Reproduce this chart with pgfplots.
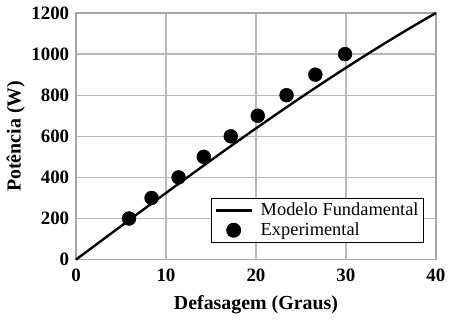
\documentclass[border=0pt]{standalone}
\usepackage{fontspec}
\setmainfont{Liberation Serif}
\usepackage{pgfplots}
\pgfplotsset{compat=1.18}
\begin{document}
\fontsize{20}{23}\selectfont
\begin{tikzpicture}
\begin{axis}[
  scale only axis,
  width=362pt, height=248pt,
  xmin=0, xmax=40, ymin=0, ymax=1200,
  xtick={0,10,20,30,40},
  ytick={0,200,400,600,800,1000,1200},
  grid=major,
  grid style={gray!55, line width=1.2pt},
  axis line style={gray!70, line width=1.2pt},
  major tick length=0pt,
  /pgf/number format/assume math mode=true,
  /pgf/number format/1000 sep={},
  tick label style={font=\fontsize{19}{22}\selectfont\bfseries},
  xticklabel style={yshift=-3pt},
  yticklabel style={xshift=0pt},
  xlabel={\textbf{Defasagem (Graus)}},
  ylabel={\textbf{Potência (W)}},
  label style={font=\fontsize{20}{23}\selectfont},
  xlabel style={yshift=0pt},
  ylabel style={yshift=-7pt},
  legend style={at={(rel axis cs:0.967,0.069)}, anchor=south east,
    draw=black, line width=1pt, font=\fontsize{18.5}{21}\selectfont,
    row sep=0pt, inner xsep=3pt, inner ysep=2pt,
    /tikz/column 1/.style={column sep=6pt}},
  legend image code/.code={
    \draw[#1, line width=2.4pt] (0pt,0pt) -- (36pt,0pt);
  },
  legend cell align=left,
  clip=false,
]
% P = Pmax sin(delta), tabulated every 2.5 degrees
\addplot[black, line width=2.4pt, smooth] coordinates {
  (0,0) (2.5,81.4) (5,162.7) (7.5,243.7) (10,324.2) (12.5,404.1)
  (15,483.2) (17.5,561.4) (20,638.5) (22.5,714.4) (25,789.0)
  (27.5,862.0) (30,933.5) (32.5,1003.1) (35,1070.8) (37.5,1136.5) (40,1200)
};
\addlegendentry{Modelo Fundamental}
\addplot[only marks, mark=*, mark size=7pt, black,
  legend image code/.code={\fill[black] (18pt,0pt) circle (7pt);}] coordinates {
  (5.9,200) (8.4,300) (11.4,400) (14.2,500) (17.2,600)
  (20.2,700) (23.4,800) (26.6,900) (29.9,1000)
};
\addlegendentry{Experimental}
\end{axis}
\end{tikzpicture}
\end{document}
